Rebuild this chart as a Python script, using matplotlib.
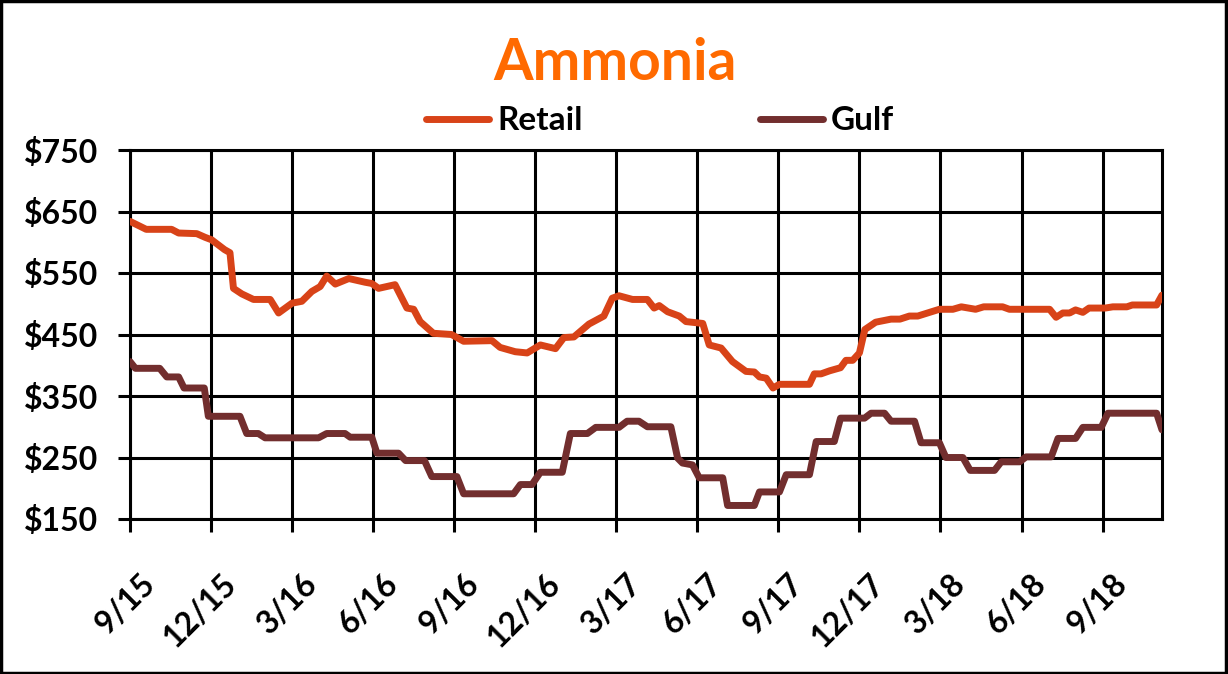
import matplotlib
matplotlib.use('Agg')
import matplotlib.pyplot as plt
import matplotlib.transforms as mtransforms
from matplotlib.patches import Rectangle

# months since Sep 2015, $/ton
retail_month = [0, 0.6, 1.54, 1.8, 2.47, 2.78, 3.02, 3.5, 3.7, 3.83, 4.14, 4.57, 5.19, 5.5,
                6.0, 6.36, 6.73, 7.04, 7.28, 7.6, 8.1, 8.7, 8.95, 9.2, 9.81, 10.25, 10.5,
                10.74, 11.23, 11.9, 12.35, 13.4, 13.7, 14.26, 14.7, 15.19, 15.75, 16.06,
                16.43, 16.99, 17.54, 17.85, 18.1, 18.6, 19.15, 19.4, 19.59, 19.9, 20.33,
                20.58, 21.2, 21.44, 21.88, 22.3, 22.8, 23.11, 23.3, 23.55, 23.8, 24.04,
                25.15, 25.33, 25.58, 25.9, 26.3, 26.5, 26.75, 27.0, 27.2, 27.6, 28.17,
                28.5, 28.85, 29.16, 29.96, 30.46, 30.77, 31.3, 31.6, 32.3, 32.55, 34.04,
                34.28, 34.53, 34.78, 35.0, 35.27, 35.5, 36.1, 36.38, 36.9, 37.1, 38.0, 38.2]
retail_price = [634, 621, 621, 615, 614, 608, 604, 588, 583, 525, 516, 507, 507, 485,
                501, 504, 520, 528, 545, 532, 541, 535, 533, 525, 531, 493, 491,
                471, 452, 450, 439, 440, 429, 422, 420, 433, 427, 445,
                446, 467, 480, 509, 513, 507, 507, 493, 497, 487, 480,
                471, 468, 433, 428, 406, 390, 389, 381, 379, 363, 369,
                369, 386, 386, 391, 396, 408, 408, 420, 458, 470, 475,
                475, 480, 480, 491, 491, 495, 491, 495, 495, 491, 491,
                478, 485, 485, 490, 486, 493, 493, 495, 495, 498, 498, 514]

gulf_month = [0, 0.2, 1.1, 1.36, 1.8, 2.0, 2.75, 2.9, 4.07, 4.32, 4.75, 5.0, 6.98, 7.28,
              7.96, 8.15, 8.95, 9.14, 9.94, 10.2, 10.9, 11.17, 12.1, 12.35, 14.2, 14.45,
              14.88, 15.19, 16.0, 16.3, 16.93, 17.24, 18.1, 18.4, 18.84, 19.15, 20.02,
              20.27, 20.45, 20.82, 21.07, 21.94, 22.12, 23.11, 23.3, 24.04, 24.29, 25.15,
              25.4, 26.07, 26.3, 27.19, 27.43, 27.93, 28.17, 29.04, 29.28, 29.96, 30.2,
              30.83, 31.1, 32.0, 32.25, 32.93, 33.17, 34.1, 34.35, 35.0, 35.27, 35.95,
              36.2, 38.0, 38.2]
gulf_price = [406, 395, 395, 381, 381, 363, 363, 317, 317, 289, 289, 282, 282, 289,
              289, 283, 283, 257, 257, 245, 245, 219, 219, 191, 191, 206,
              206, 226, 226, 289, 289, 299, 299, 309, 309, 300, 300,
              249, 241, 238, 217, 217, 172, 172, 194, 194, 222, 222,
              276, 276, 314, 314, 322, 322, 309, 309, 274, 274, 250,
              250, 229, 229, 243, 243, 251, 251, 281, 281, 299, 299,
              322, 322, 295]

tick_month = [0, 3, 6, 9, 12, 15, 18, 21, 24, 27, 30, 33, 36]
tick_labels = ['9/15', '12/15', '3/16', '6/16', '9/16', '12/16', '3/17', '6/17',
               '9/17', '12/17', '3/18', '6/18', '9/18']
y_ticks = [150, 250, 350, 450, 550, 650, 750]

plt.rcParams['font.family'] = 'Lato'
plt.rcParams['font.weight'] = 'bold'

fig = plt.figure(figsize=(12.28, 6.74), dpi=100)
fig.set_facecolor('white')
ax = fig.add_axes([130/1228, 155/674, 1032/1228, 369/674])

ax.plot(retail_month, retail_price, color='#D84318', lw=5, label='Retail',
        solid_joinstyle='round', solid_capstyle='round', zorder=5)
ax.plot(gulf_month, gulf_price, color='#722E2E', lw=5, label='Gulf',
        solid_joinstyle='round', solid_capstyle='round', zorder=5)

ax.set_xlim(0, 38.2)
ax.set_ylim(150, 750)
ax.set_yticks(y_ticks)
ax.set_yticklabels(['${}'.format(v) for v in y_ticks])
ax.set_xticks(tick_month)
ax.set_xticklabels(tick_labels, rotation=45, ha='right', va='top', rotation_mode='anchor')
ax.grid(True, color='black', lw=2.2, zorder=1)
for s in ax.spines.values():
    s.set_linewidth(2.2)
ax.tick_params(axis='both', length=9, width=2.2, labelsize=23)
ax.tick_params(axis='y', pad=14)
ax.tick_params(axis='x', pad=27)
offset = mtransforms.ScaledTranslation(10/100, 0, fig.dpi_scale_trans)
for lab in ax.get_xticklabels():
    lab.set_transform(lab.get_transform() + offset)

fig.text(615/1228, 1 - 64/674, 'Ammonia', ha='center', va='center', color='#FF6A00',
         fontsize=41, fontweight='bold')
fig.legend(loc='center', bbox_to_anchor=(660/1228, 1 - 121/674), ncol=2, frameon=False,
           fontsize=24, handlelength=1.9, handletextpad=0.25, columnspacing=5.3)

fig.patches.append(Rectangle((0.001, 0.002), 0.997, 0.996, transform=fig.transFigure,
                             fill=False, edgecolor='black', lw=2.5))

plt.savefig('out.png', dpi=100)
